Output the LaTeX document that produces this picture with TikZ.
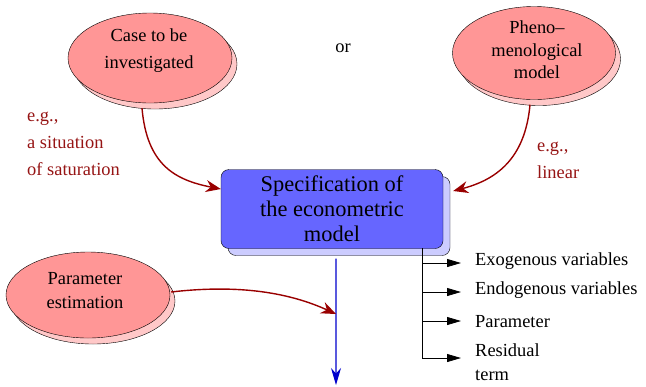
\documentclass[tikz,border=0pt]{standalone}
\usepackage{fontspec}
\setmainfont{Liberation Serif}
\usetikzlibrary{shapes.geometric,shadows,arrows.meta}
\definecolor{pinkfill}{RGB}{255,150,150}
\definecolor{pinkshadow}{RGB}{255,200,200}
\definecolor{boxfill}{RGB}{102,102,255}
\definecolor{boxshadow}{RGB}{204,204,255}
\definecolor{darkred}{RGB}{153,0,0}
\definecolor{labelred}{RGB}{150,20,20}
\definecolor{darkblue}{RGB}{0,0,204}
\tikzset{
  bubble/.style={ellipse, draw=black, fill=pinkfill, inner sep=0pt,
    copy shadow={shadow xshift=5bp, shadow yshift=-6bp, fill=pinkshadow, draw=black}},
  bubbletext/.style={align=center, inner sep=0pt, font=\fontsize{18.5}{27}\selectfont},
  specbox/.style={rectangle, rounded corners=8bp, draw=black, fill=boxfill, align=center,
    minimum width=222bp, minimum height=79bp, inner sep=0pt,
    font=\fontsize{22.5}{25}\selectfont,
    copy shadow={shadow xshift=7bp, shadow yshift=-7bp, fill=boxshadow, draw=black}},
  redlabel/.style={text=labelred, align=left, font=\fontsize{18.5}{27}\selectfont, inner sep=0pt},
  listlabel/.style={anchor=west, align=left, font=\fontsize{18.5}{24}\selectfont, inner sep=0pt},
  redarrow/.style={draw=darkred, line width=1.4bp, -{Stealth[length=15bp,width=12bp]}},
  listarrow/.style={draw=black, line width=0.8bp, -{Triangle[length=14bp,width=8bp]}},
  bluearrow/.style={draw=darkblue, line width=1.1bp, -{Stealth[length=17bp,width=10bp]}}
}
\begin{document}
\begin{tikzpicture}[x=1bp,y=-1bp]
\useasboundingbox (0,0) rectangle (646,386);
% bubbles
\node[bubble, minimum width=164bp, minimum height=90bp] (case) at (150,58) {};
\node[bubbletext] (casetext) at (149,51) {Case to be\\investigated};
\node[bubble, minimum width=163bp, minimum height=93bp] (pheno) at (534,53) {};
\node[bubbletext, font=\fontsize{18.5}{22.5}\selectfont] (phenotext) at (537,50) {Pheno--\\menological\\model};
\node[bubble, minimum width=164bp, minimum height=86bp] (param) at (88,295) {};
\node[bubbletext, font=\fontsize{18.5}{24}\selectfont] (paramtext) at (85,291) {Parameter\\estimation};
\node[font=\fontsize{18.5}{22}\selectfont] (or) at (343,48) {or};
% main box
\node[specbox] (spec) at (332,209) {Specification of\\the econometric\\model};
% labels
\node[redlabel, anchor=west] (eg1) at (27,144) {e.g.,\\a situation\\of saturation};
\node[redlabel, anchor=west] (eg2) at (537,160) {e.g.,\\linear};
% red arrows
\draw[redarrow] ([xshift=-8bp,yshift=-5bp]case.south) .. controls (147,165) and (175,180) .. ([yshift=20bp]spec.west);
\draw[redarrow] ([xshift=-4bp,yshift=-5bp]pheno.south) .. controls (525,160) and (495,180) .. ([xshift=10bp,yshift=18bp]spec.east);
% blue arrow
\coordinate (bstart) at ([xshift=4bp,yshift=-10bp]spec.south);
\coordinate (bend) at (336,385);
\draw[bluearrow] (bstart) -- (bend);
\coordinate (hit) at (336,314);
\draw[redarrow] ([xshift=1bp,yshift=3bp]param.east) .. controls (240,284) and (290,293) .. (hit);
% list
\coordinate (ltop) at (422,248);
\coordinate (l1) at (422,263);
\coordinate (l2) at (422,292);
\coordinate (l3) at (422,321);
\coordinate (l4) at (422,358);
\node[listlabel] (exo) at (475,261) {Exogenous variables};
\node[listlabel] (endo) at (475,290) {Endogenous variables};
\node[listlabel] (par) at (475,322) {Parameter};
\node[listlabel] (res) at (475,362) {Residual\\term};
\draw[black, line width=0.8bp] (ltop) -- (l4);
\draw[listarrow] (l1) -- ++(39,0);
\draw[listarrow] (l2) -- ++(39,0);
\draw[listarrow] (l3) -- ++(39,0);
\draw[listarrow] (l4) -- ++(39,0);
\end{tikzpicture}
\end{document}
